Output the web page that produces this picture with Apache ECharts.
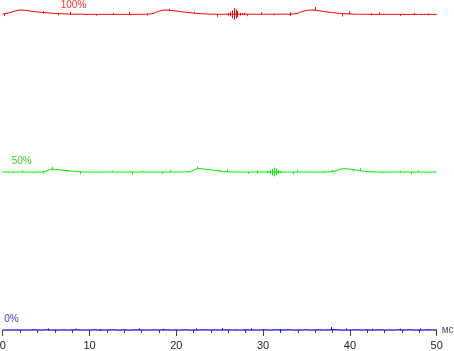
<!DOCTYPE html>
<html>
<head>
<meta charset="utf-8">
<script src="https://cdn.jsdelivr.net/npm/echarts@6/dist/echarts.min.js"></script>
<style>html,body{margin:0;padding:0;background:#fff;}#c{width:454px;height:351px;}</style>
</head>
<body>
<div id="c"></div>
<script>
// time axis (ms)
const times = [0,0.5,1,1.5,2,2.5,3,3.5,4,4.5,5,5.5,6,6.5,7,7.5,8,8.5,9,9.5,10,10.5,11,11.5,12,12.5,13,13.5,14,14.5,15,15.5,16,16.5,17,17.5,18,18.5,19,19.5,20,20.5,21,21.5,22,22.5,23,23.5,24,24.5,25,25.5,26,26.5,27,27.5,28,28.5,29,29.5,30,30.5,31,31.5,32,32.5,33,33.5,34,34.5,35,35.5,36,36.5,37,37.5,38,38.5,39,39.5,40,40.5,41,41.5,42,42.5,43,43.5,44,44.5,45,45.5,46,46.5,47,47.5,48,48.5,49,49.5,50];

const levelNames = ['100%', '50%', '0%'];
const xTickLabels = [0, 10, 20, 30, 40, 50];
const unitName = 'мс';

const red100 = [100.0,100.2,100.6,101.0,101.25,101.2,101.0,100.8,100.65,100.5,100.4,100.3,100.2,100.1,100.05,100.0,99.95,99.9,99.95,99.9,99.85,99.9,99.85,99.9,99.9,99.85,99.9,99.85,99.9,99.9,99.85,99.9,99.9,99.95,100.0,100.3,100.9,101.25,101.25,101.1,100.95,100.75,100.6,100.45,100.3,100.15,100.05,100.0,99.95,99.95,99.9,99.95,99.9,99.95,99.9,99.95,99.95,99.9,99.95,99.9,99.95,99.95,99.9,99.95,99.95,99.95,99.95,100.0,100.2,100.8,101.15,101.25,101.2,101.0,100.8,100.6,100.45,100.3,100.15,100.05,100.0,99.95,99.9,99.95,99.9,99.9,99.85,99.9,99.9,99.85,99.9,99.85,99.9,99.85,99.85,99.9,99.85,99.85,99.9,99.85,99.85];

const green50 = [50.0,50.0,49.95,50.0,50.0,49.95,50.0,49.95,50.0,50.0,50.3,50.9,50.85,50.7,50.55,50.4,50.25,50.15,50.05,50.0,50.0,49.95,50.0,49.95,50.0,50.0,49.95,50.0,49.95,50.0,50.0,49.95,50.0,49.95,50.0,50.0,49.95,50.0,49.95,50.0,50.0,50.0,50.0,50.1,50.6,51.1,51.0,50.85,50.65,50.45,50.3,50.15,50.05,50.0,50.0,49.95,50.0,49.95,50.0,50.0,49.95,50.0,49.95,50.0,50.0,49.95,50.0,49.95,50.0,50.0,49.95,50.0,49.95,50.0,50.0,50.0,50.1,50.5,50.95,51.05,50.9,50.7,50.5,50.3,50.15,50.05,50.0,49.95,50.0,49.95,50.0,50.0,49.95,50.0,49.95,49.95,50.0,49.95,49.95,50.0,49.95];

const blue0 = [0.0,0.05,0.0,0.1,0.0,0.05,0.0,0.1,0.05,0.0,0.1,0.0,0.05,0.0,0.1,0.0,0.05,0.1,0.0,0.05,0.0,0.1,0.0,0.05,0.0,0.1,0.05,0.0,0.1,0.0,0.05,0.1,0.0,0.05,0.0,0.1,0.0,0.05,0.1,0.0,0.05,0.0,0.1,0.0,0.05,0.0,0.1,0.05,0.0,0.1,0.0,0.05,0.1,0.0,0.05,0.0,0.1,0.0,0.05,0.0,0.1,0.05,0.0,0.1,0.0,0.05,0.1,0.0,0.05,0.0,0.1,0.0,0.05,0.1,0.0,0.05,0.15,0.1,0.0,0.05,0.0,0.1,0.05,0.0,0.1,0.0,0.05,0.1,0.0,0.05,0.0,0.1,0.0,0.05,0.1,0.0,0.05,0.0,0.1,0.0,0.05];

// short spikes: [time, low, high]
const redSpikes = [[0.1,99.3,100.0],[4.6,100.1,100.9],[6.4,99.6,100.2],[7.8,99.7,100.6],[9.6,99.6,100.0],[10.8,99.5,100.0],[12.7,99.7,100.4],[14.5,99.9,100.6],[16.6,99.5,100.0],[19.2,101.0,101.6],[22.0,100.3,100.7],[24.7,99.1,99.9],[25.9,99.5,100.3],[26.15,99.2,100.7],[26.4,98.7,101.1],[26.6,98.2,101.9],[26.85,98.6,101.4],[27.05,99.0,100.9],[27.3,99.5,100.4],[27.55,99.7,100.2],[27.8,99.6,100.4],[28.2,99.3,99.9],[29.8,99.9,100.5],[31.2,99.6,100.1],[33.1,99.4,100.5],[36.0,101.2,102.2],[39.1,99.2,100.1],[39.9,100.0,100.9],[42.4,99.6,100.2],[43.3,99.9,100.5],[45.8,99.4,99.9],[47.4,99.8,100.3],[49.0,99.6,100.1]];

const greenSpikes = [[1.2,49.6,50.0],[2.2,50.0,50.5],[4.7,49.5,50.0],[5.65,50.8,51.6],[7.4,50.0,50.6],[8.9,49.3,50.1],[12.6,50.0,50.4],[14.9,49.2,50.0],[16.0,50.0,50.4],[18.3,49.4,50.0],[19.3,50.0,50.6],[22.4,51.0,51.7],[24.9,50.0,50.6],[25.8,50.1,50.8],[28.3,49.5,50.0],[29.3,49.6,50.5],[30.5,49.7,50.3],[30.75,49.3,50.6],[31.0,48.9,51.0],[31.25,48.6,51.4],[31.5,49.0,51.1],[31.75,49.4,50.6],[32.0,49.7,50.3],[33.5,49.3,50.0],[33.9,50.0,50.7],[37.0,49.6,50.1],[37.9,50.0,50.7],[40.3,50.2,50.9],[41.2,50.4,51.2],[43.7,49.6,50.0],[45.8,50.0,50.4],[47.0,49.3,50.0],[47.9,50.0,50.5]];

const blueSpikes = [[5.2,0,0.5],[8.5,0,0.4],[11.2,-0.2,0.3],[15.7,0,0.5],[18.5,0,0.4],[22.3,0,0.5],[25.3,0,0.6],[28.6,0,0.5],[31.9,-0.2,0.3],[37.8,0,0.9],[39.5,0,0.5],[42.6,0,0.4],[45.8,0,0.4],[48.1,0,0.5]];

const FONT = 'Liberation Sans, Arial, sans-serif';
const chart = echarts.init(document.getElementById('c'), null, {renderer: 'canvas'});

function lineSeries(values, color, label, labelColor, coord) {
  return {
    type: 'line', showSymbol: false, silent: true,
    data: times.map((t, i) => [t, values[i]]),
    lineStyle: {color: color, width: 1},
    itemStyle: {color: color},
    markPoint: {
      symbol: 'circle', symbolSize: 0, silent: true, animation: false,
      data: [{coord: coord, value: label}],
      label: {show: true, position: 'inside', formatter: label, color: labelColor, fontSize: 10, fontFamily: FONT}
    }
  };
}
function spikeSeries(spikes, color) {
  return {
    type: 'custom', silent: true,
    data: spikes,
    encode: {x: 0, y: [1, 2]},
    renderItem: function (params, api) {
      const a = api.coord([api.value(0), api.value(1)]);
      const b = api.coord([api.value(0), api.value(2)]);
      const x = Math.round(a[0]) + 0.5;
      return {type: 'line', shape: {x1: x, y1: a[1], x2: x, y2: b[1]}, style: {stroke: color, lineWidth: 1}};
    }
  };
}

chart.setOption({
  animation: false,
  backgroundColor: '#ffffff',
  grid: {left: 2.7, top: 0, width: 434, height: 332, containLabel: false, outerBoundsMode: 'none'},
  xAxis: {
    type: 'value', min: 0, max: 50, interval: 10,
    name: unitName, nameLocation: 'end', nameGap: 5,
    nameTextStyle: {fontSize: 10, color: '#555', fontFamily: FONT},
    axisLine: {show: true, lineStyle: {color: '#b0b0bc', width: 1}},
    axisTick: {show: true, length: 6, lineStyle: {color: '#404040'}},
    minorTick: {show: true, splitNumber: 5, length: 3, lineStyle: {color: '#404040'}},
    axisLabel: {fontSize: 11, color: '#222', fontFamily: FONT, margin: 8,
      formatter: v => (xTickLabels.indexOf(v) >= 0 ? String(v) : '')},
    splitLine: {show: false}
  },
  yAxis: {type: 'value', min: -0.633, max: 104.43, show: false},
  series: [
    lineSeries(red100, '#ff0000', levelNames[0], '#ff3030', [8.16, 102.85]),
    lineSeries(green50, '#00ee00', levelNames[1], '#30d030', [2.19, 53.54]),
    lineSeries(blue0, '#0000ff', levelNames[2], '#3c3cff', [1.01, 3.48]),
    spikeSeries(redSpikes, '#ff0000'),
    spikeSeries(greenSpikes, '#00ee00'),
    spikeSeries(blueSpikes, '#0000ff')
  ]
});
</script>
</body>
</html>
